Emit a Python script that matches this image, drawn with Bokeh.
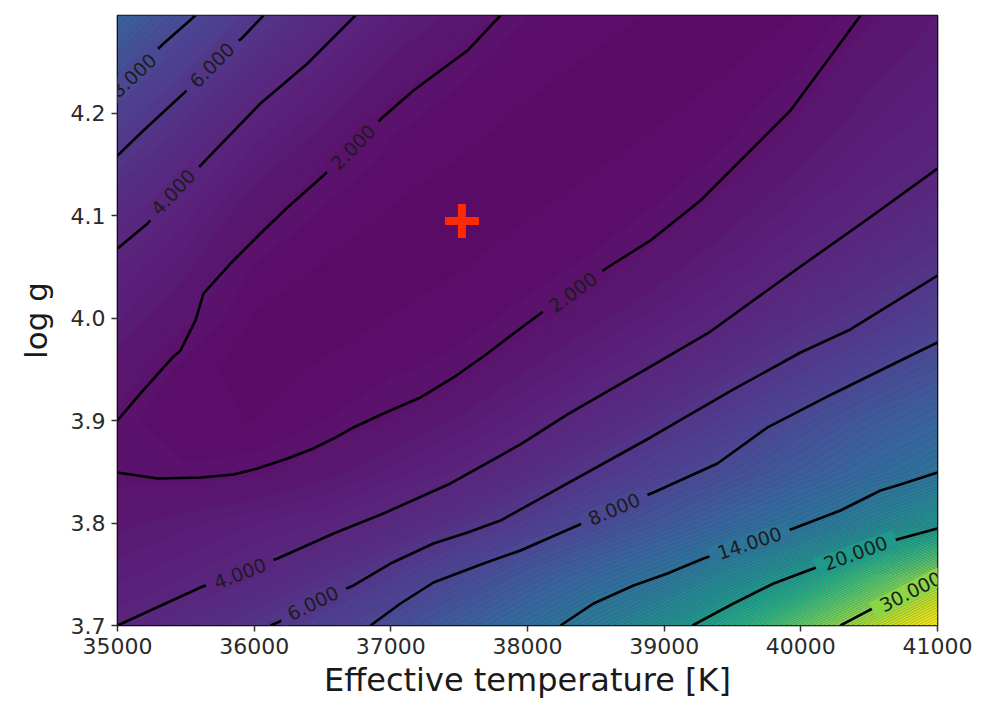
import numpy as np
from bokeh.plotting import figure
from bokeh.models import ColumnDataSource, FixedTicker, Range1d
from bokeh.core.properties import value
from bokeh.palettes import Viridis256
from bokeh.embed import file_html
from bokeh.resources import INLINE

# ---------------- data ----------------
teff = [35000, 35500, 36000, 36500, 37000, 37500, 38000, 38500, 39000, 39500, 40000, 40500, 41000]
logg = [3.70, 3.75, 3.80, 3.85, 3.90, 3.95, 4.00, 4.05, 4.10, 4.15, 4.20, 4.25, 4.30]

chi2_370 = [4.00, 4.89, 5.79, 7.04, 8.64, 10.80, 12.96, 15.60, 18.71, 22.70, 27.32, 31.78, 36.0]
chi2_375 = [3.33, 3.72, 4.27, 5.27, 6.44, 8.10, 10.06, 12.00, 13.96, 17.05, 20.24, 25.10, 29.8]
chi2_380 = [2.66, 3.04, 3.42, 3.80, 4.48, 5.52, 6.80, 8.35, 10.18, 12.00, 13.82, 16.56, 19.4]
chi2_385 = [1.99, 1.93, 2.05, 2.58, 3.23, 3.87, 4.94, 6.12, 7.37, 8.85, 10.57, 12.29, 14.0]
chi2_390 = [1.99, 1.60, 1.55, 1.85, 2.20, 2.90, 3.67, 4.65, 5.70, 6.91, 8.52, 10.25, 11.6]
chi2_395 = [2.59, 1.71, 1.39, 1.61, 1.81, 1.97, 2.81, 3.54, 4.32, 5.39, 6.48, 7.79, 9.25]
chi2_400 = [3.19, 2.28, 1.52, 1.34, 1.57, 1.76, 1.96, 2.69, 3.39, 4.13, 5.19, 6.00, 7.28]
chi2_405 = [3.78, 2.92, 1.83, 1.53, 1.33, 1.53, 1.76, 1.93, 2.59, 3.36, 4.10, 4.99, 5.84]
chi2_410 = [4.70, 3.56, 2.36, 1.80, 1.51, 1.25, 1.54, 1.74, 1.94, 2.65, 3.43, 4.00, 4.89]
chi2_415 = [5.80, 4.38, 3.15, 2.19, 1.75, 1.52, 1.32, 1.53, 1.73, 1.97, 2.81, 3.51, 3.93]
chi2_420 = [7.25, 5.51, 3.94, 2.98, 1.98, 1.75, 1.50, 1.30, 1.52, 1.76, 2.19, 3.03, 3.57]
chi2_425 = [9.30, 6.87, 5.12, 3.78, 2.74, 1.97, 1.71, 1.50, 1.30, 1.53, 1.82, 2.54, 3.18]
chi2_430 = [11.8, 8.60, 6.40, 4.84, 3.53, 2.67, 1.90, 1.72, 1.51, 1.30, 1.56, 2.06, 2.78]

# contour lines (Teff, log g)
c8a_t = [35571, 35337, 35000]
c8a_g = [4.2957, 4.2684, 4.2244]
c6a_t = [36068, 35915, 35695, 35483, 35190, 35000]
c6a_g = [4.2957, 4.2742, 4.2488, 4.2195, 4.1834, 4.1590]
c4a_t = [36741, 36390, 36046, 35622, 35402, 35220, 35000]
c4a_g = [4.2957, 4.2488, 4.2098, 4.1512, 4.1219, 4.0926, 4.0682]
c2a_t = [37802, 37561, 37363, 37166, 36939, 36720, 36507, 36244, 36046, 35827, 35629, 35571, 35461, 35402, 35168, 35000]
c2a_g = [4.2957, 4.2615, 4.2420, 4.2225, 4.1961, 4.1668, 4.1395, 4.1082, 4.0828, 4.0535, 4.0242, 3.9979, 3.9686, 3.9617, 3.9266, 3.9002]
c2b_t = [35000, 35293, 35607, 35849, 36024, 36244, 36434, 36581, 36727, 36946, 37217, 37459, 37707, 37898, 38095, 38337, 38585, 38900, 39266, 39632, 39924, 40195, 40437]
c2b_g = [3.8494, 3.8436, 3.8445, 3.8475, 3.8533, 3.8631, 3.8729, 3.8826, 3.8934, 3.9070, 3.9227, 3.9422, 3.9656, 3.9852, 4.0047, 4.0271, 4.0496, 4.0760, 4.1150, 4.1639, 4.2029, 4.2518, 4.2957]
c4b_t = [35000, 35607, 35885, 36171, 36581, 36946, 37437, 37802, 37949, 38293, 38900, 39339, 39632, 39998, 40495, 41000]
c4b_g = [3.7000, 3.7371, 3.7518, 3.7654, 3.7898, 3.8094, 3.8387, 3.8660, 3.8768, 3.9061, 3.9529, 3.9871, 4.0154, 4.0506, 4.0975, 4.1463]
c6b_t = [36119, 36171, 36434, 36727, 36998, 37312, 37561, 37802, 38293, 38900, 39507, 39998, 40363, 41000]
c6b_g = [3.7000, 3.7029, 3.7225, 3.7391, 3.7605, 3.7801, 3.7908, 3.8025, 3.8387, 3.8836, 3.9305, 3.9666, 3.9891, 4.0418]
c8b_t = [36851, 37071, 37312, 37678, 37949, 38366, 38629, 38922, 39390, 39756, 40239, 40729, 41000]
c8b_g = [3.7000, 3.7215, 3.7420, 3.7605, 3.7732, 3.7977, 3.8143, 3.8299, 3.8582, 3.8934, 3.9266, 3.9588, 3.9764]
c14_t = [38241, 38483, 38776, 39024, 39288, 39632, 39946, 40290, 40583, 40729, 41000]
c14_g = [3.7000, 3.7215, 3.7391, 3.7508, 3.7654, 3.7811, 3.7947, 3.8123, 3.8318, 3.8377, 3.8494]
c20_t = [39207, 39507, 39800, 40093, 40400, 40729, 41000]
c20_g = [3.7000, 3.7215, 3.7410, 3.7557, 3.7713, 3.7850, 3.7947]
c30_t = [40290, 40495, 40780, 41000]
c30_g = [3.7000, 3.7146, 3.7322, 3.7469]

# contour labels
label_text = ["8.000", "6.000", "4.000", "2.000", "2.000", "4.000", "6.000", "8.000", "14.000", "20.000", "30.000"]
label_level = [8, 6, 4, 2, 2, 4, 6, 8, 14, 20, 30]
label_teff = [35117, 35691, 35406, 36723, 38333, 35896, 36430, 38633, 39624, 40400, 40802]
label_logg = [4.2371, 4.2474, 4.1233, 4.1673, 4.0257, 3.7508, 3.7220, 3.8138, 3.7806, 3.7708, 3.7332]
label_angle = [43, 45, 47, 45, 36, 21, 26, 23, 18, 20, 27]

best_teff = [37520]
best_logg = [4.095]

x_ticks = [35000, 36000, 37000, 38000, 39000, 40000, 41000]
x_tick_labels = ["35000", "36000", "37000", "38000", "39000", "40000", "41000"]
y_ticks = [3.7, 3.8, 3.9, 4.0, 4.1, 4.2]
y_tick_labels = ["3.7", "3.8", "3.9", "4.0", "4.1", "4.2"]

# ---------------- styling ----------------
FONT = "DejaVu Sans"


def warm_viridis(i):
    h = Viridis256[i]
    r, g, b = int(h[1:3], 16), int(h[3:5], 16), int(h[5:7], 16)
    t = i / 255.0
    boost = max(0.0, 1.0 - t / 0.35)
    blue = max(0.0, 1.0 - abs(t - 0.32) / 0.2)
    r = min(255, int(r + 22 * boost))
    g = min(255, int(g + 10 * boost + 6 * blue))
    b = min(255, int(b + 18 * boost + 14 * blue))
    return "#%02x%02x%02x" % (r, g, b)


palette = [warm_viridis(i) for i in range(256)]

z = np.array([chi2_370, chi2_375, chi2_380, chi2_385, chi2_390, chi2_395, chi2_400,
              chi2_405, chi2_410, chi2_415, chi2_420, chi2_425, chi2_430])
lo, hi = float(z.min()), float(z.max())


def color_of(v):
    k = int(round((v - lo) / (hi - lo) * 255))
    return palette[max(0, min(255, k))]


p = figure(width=993, height=703, output_backend="svg", toolbar_location=None,
           x_range=Range1d(35000, 41000), y_range=Range1d(3.7, 4.2957),
           min_border_left=117, min_border_right=56, min_border_top=15, min_border_bottom=78)
p.background_fill_color = "#5a2474"
p.border_fill_color = "white"
p.grid.visible = False
p.outline_line_color = "black"
p.outline_line_width = 1.6

# background field
levels = np.linspace(lo - 0.01, hi + 0.01, 111)
mids = 0.5 * (levels[:-1] + levels[1:])
fills = [color_of(m) for m in mids]
cr = p.contour(teff, logg, z, levels, fill_color=fills, line_color=None)
cr.fill_renderer.glyph.line_color = cr.fill_renderer.glyph.fill_color
cr.fill_renderer.glyph.line_width = 0.8

# contour lines
line_src = ColumnDataSource(dict(
    xs=[c8a_t, c6a_t, c4a_t, c2a_t, c2b_t, c4b_t, c6b_t, c8b_t, c14_t, c20_t, c30_t],
    ys=[c8a_g, c6a_g, c4a_g, c2a_g, c2b_g, c4b_g, c6b_g, c8b_g, c14_g, c20_g, c30_g],
))
p.multi_line("xs", "ys", source=line_src, line_color="black", line_width=2.6)

# labels with background matching the field colour at the contour level
lab_src = ColumnDataSource(dict(
    x=label_teff, y=label_logg, text=label_text,
    angle=[np.deg2rad(a) for a in label_angle],
    bg=[color_of(v) for v in label_level],
))
p.text("x", "y", text="text", angle="angle", source=lab_src,
       text_font=value(FONT), text_font_size="19px", text_color="#1c1c1c",
       text_align="center", text_baseline="middle",
       background_fill_color="bg", padding=dict(left=9, right=9, top=2, bottom=2))

# best fit marker
p.scatter(best_teff, best_logg, marker="cross", size=34, line_width=8, line_color="#ff2a00")

# axes
for ax, ticks, labs in ((p.xaxis, x_ticks, x_tick_labels), (p.yaxis, y_ticks, y_tick_labels)):
    ax.ticker = FixedTicker(ticks=ticks)
    ax.major_label_overrides = {t: l for t, l in zip(ticks, labs)}
    ax.minor_tick_line_color = None
    ax.major_tick_in = 0
    ax.major_tick_out = 6
    ax.major_tick_line_color = "#333333"
    ax.major_tick_line_width = 1.5
    ax.axis_line_color = None
    ax.major_label_text_font = FONT
    ax.major_label_text_font_size = "22px"
    ax.major_label_text_color = "#2a2a2a"
    ax.axis_label_text_font = FONT
    ax.axis_label_text_font_style = "normal"
    ax.axis_label_text_color = "#1a1a1a"

p.xaxis.axis_label = "Effective temperature [K]"
p.yaxis.axis_label = "log g"
p.xaxis.axis_label_text_font_size = "32px"
p.yaxis.axis_label_text_font_size = "31px"
p.xaxis.major_label_standoff = 6
p.xaxis.axis_label_standoff = 4
p.yaxis.major_label_standoff = 6
p.yaxis.axis_label_standoff = 14

open("out.html", "w").write(file_html(p, INLINE))
